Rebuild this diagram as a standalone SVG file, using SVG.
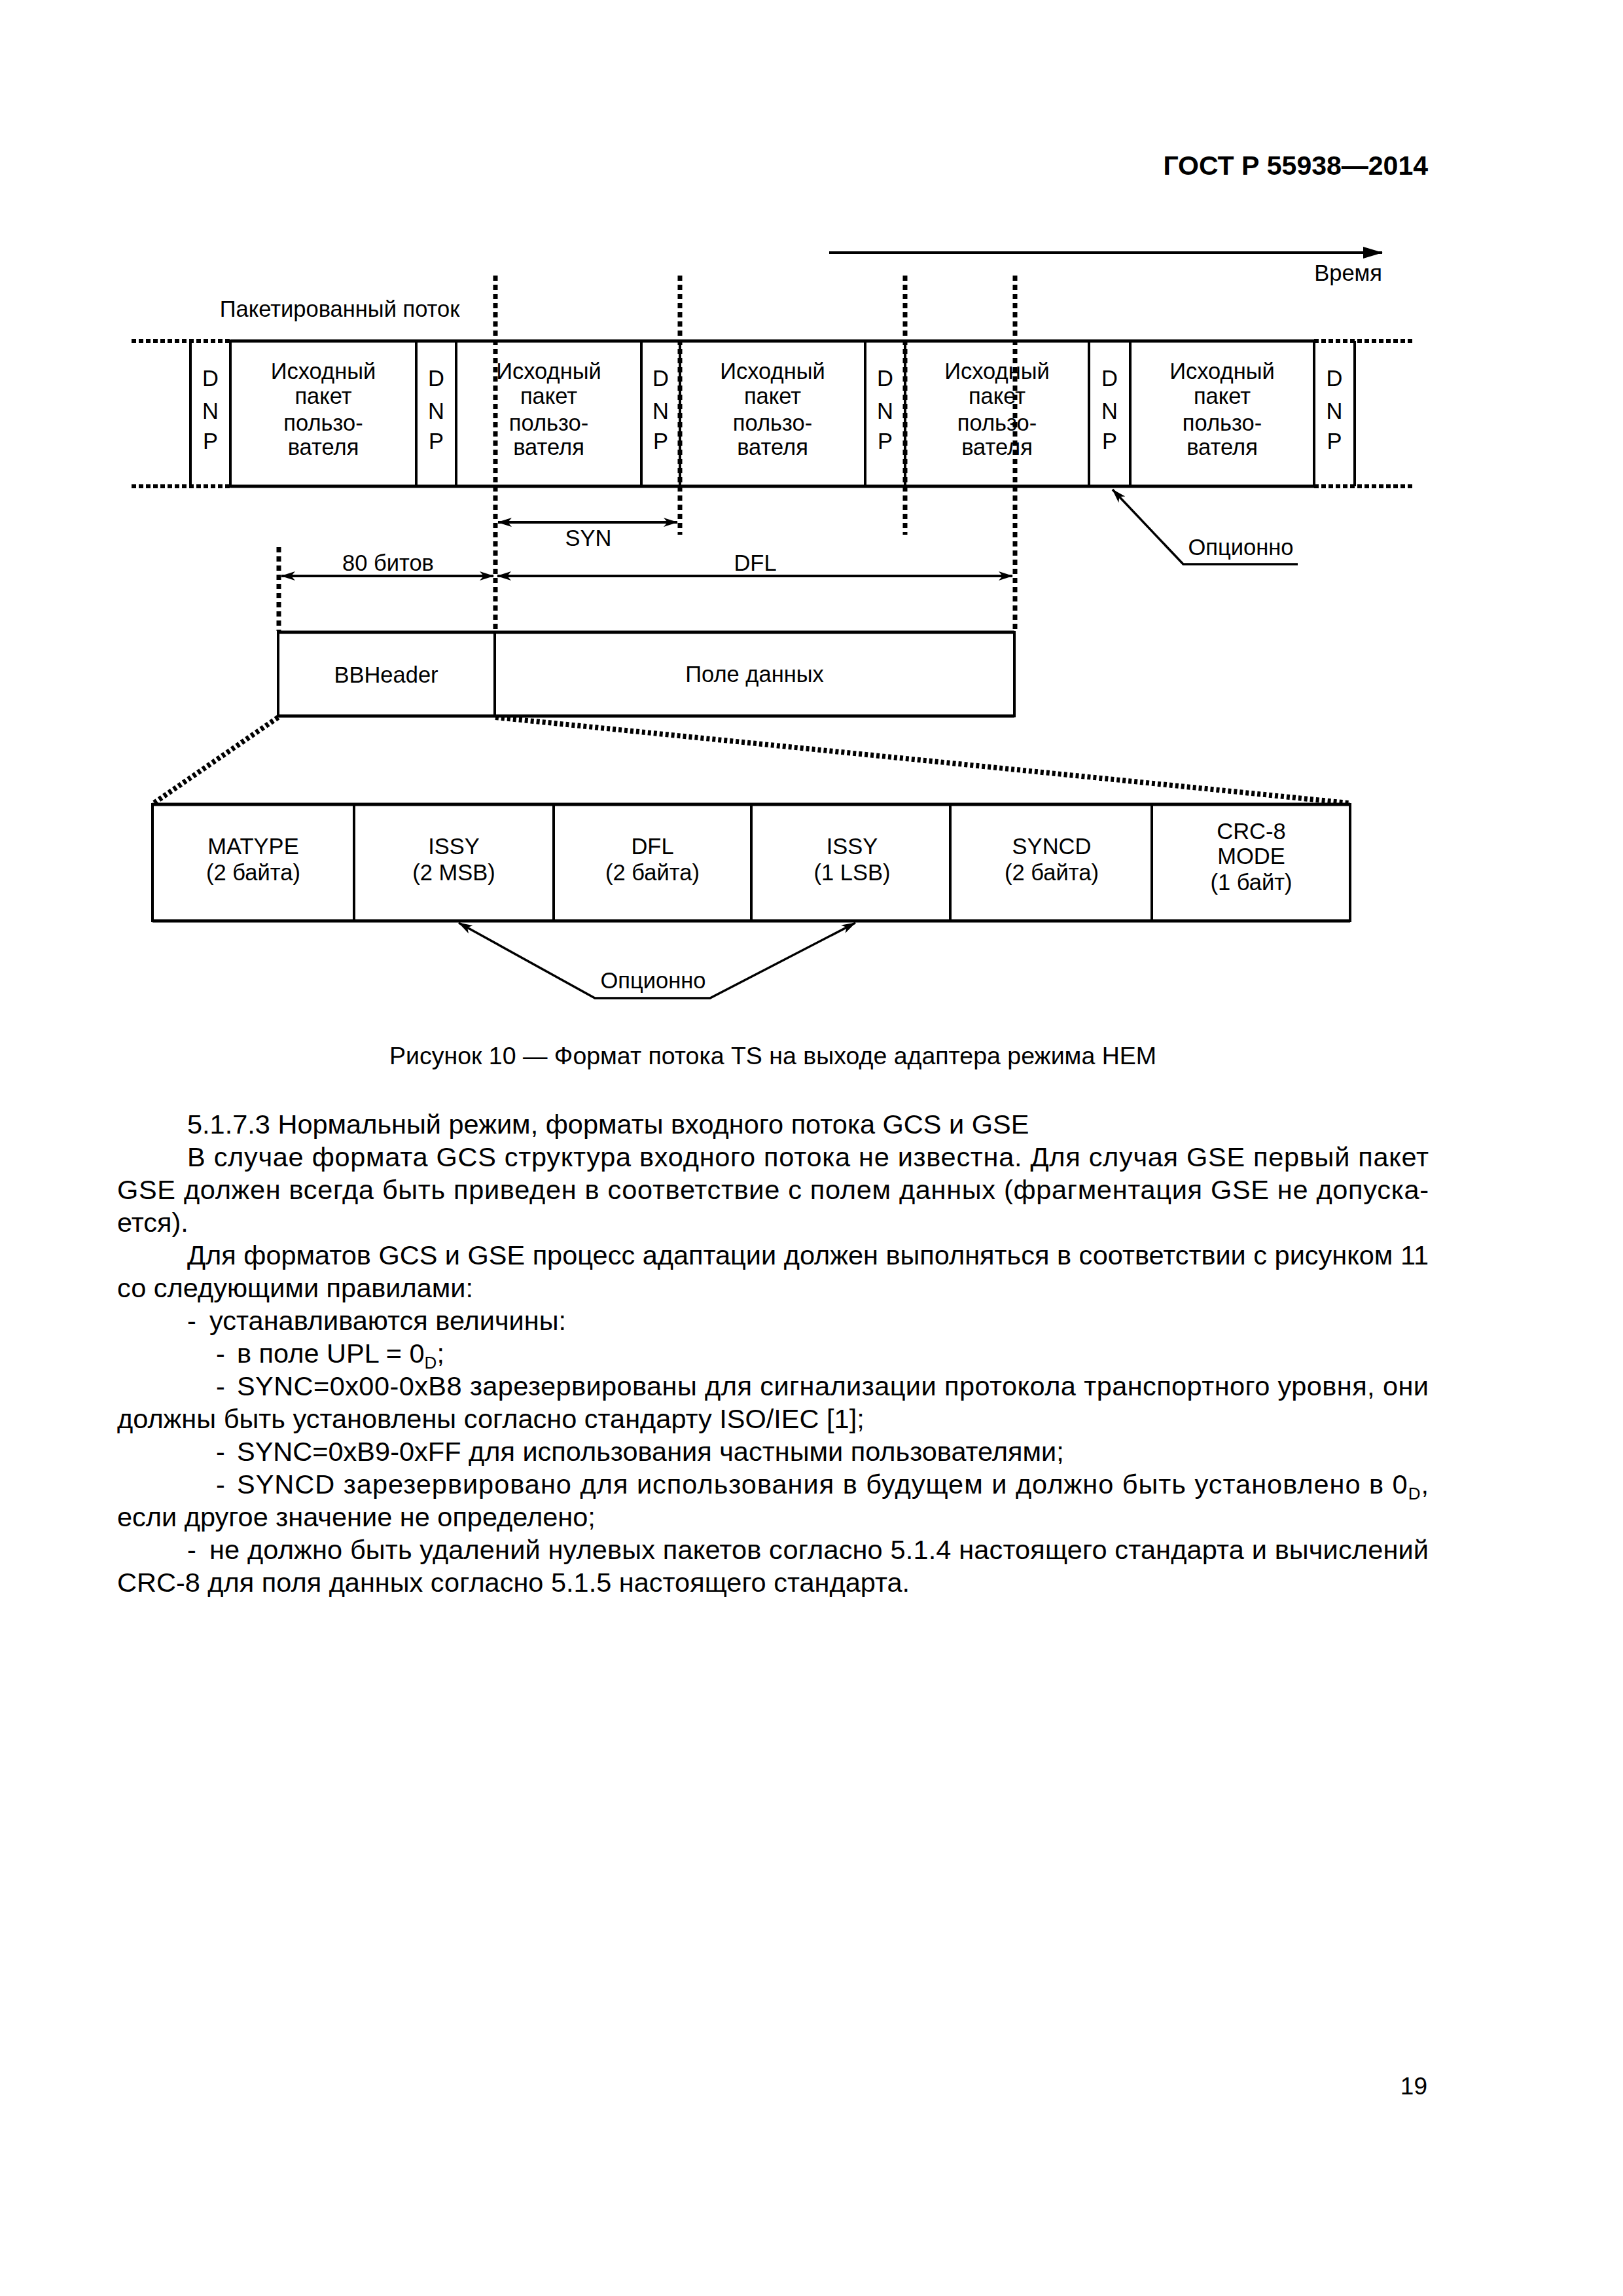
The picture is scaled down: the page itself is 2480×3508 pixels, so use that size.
<svg xmlns="http://www.w3.org/2000/svg" width="2480" height="3508" viewBox="0 0 2480 3508">
<style>
.t{font-family:"Liberation Sans",Arial,sans-serif;fill:#000}
.d{font-size:34.5px;text-anchor:middle}
.b{font-size:41.5px}
.c{font-size:37.5px;text-anchor:middle}
.box{fill:none;stroke:#000;stroke-width:4}
.hl{stroke:#000;stroke-width:5;fill:none}
.dash{stroke:#000;stroke-width:7;stroke-dasharray:8 6;fill:none}
.dot{stroke:#000;stroke-width:6;stroke-dasharray:7 4;fill:none}
.diag{stroke:#000;stroke-width:8;stroke-dasharray:5 4;fill:none}
.arr{stroke:#000;stroke-width:4;fill:none}
.opt{stroke:#000;stroke-width:3.5;fill:none}
</style>
<defs>
<marker id="ah" viewBox="0 0 22 14" markerWidth="22" markerHeight="14" refX="21" refY="7" orient="auto-start-reverse" markerUnits="userSpaceOnUse"><path d="M0,0 L22,7 L0,14 L6,7 Z" fill="#000"/></marker>
<marker id="big" viewBox="0 0 30 18" markerWidth="30" markerHeight="18" refX="29" refY="9" orient="auto" markerUnits="userSpaceOnUse"><path d="M0,0 L30,9 L0,18 Z" fill="#000"/></marker>
</defs>
<rect width="2480" height="3508" fill="#fff"/>

<text class="t" x="2182" y="267" font-size="41" font-weight="bold" text-anchor="end">ГОСТ Р 55938—2014</text>

<g id="time-axis">
<line class="arr" x1="1267" y1="386" x2="2112" y2="386" marker-end="url(#big)"/>
<text class="t" x="2112" y="429" font-size="34.5" text-anchor="end">Время</text>
</g>

<g id="stream-label"><text class="t d" x="519" y="484">Пакетированный поток</text></g>

<!-- packet stream -->
<g id="dnp1"><line class="box" x1="291" y1="521" x2="291" y2="743"/><line class="box" x1="352" y1="521" x2="352" y2="743"/>
<text class="t d" x="321.5" y="590">D</text><text class="t d" x="321.5" y="640">N</text><text class="t d" x="321.5" y="686">P</text></g>
<g id="pkt1"><rect class="box" x="352" y="521" width="284" height="222"/>
<text class="t d" x="494" y="579">Исходный</text><text class="t d" x="494" y="617">пакет</text><text class="t d" x="494" y="658">пользо-</text><text class="t d" x="494" y="695">вателя</text></g>
<g id="dnp2"><rect class="box" x="636" y="521" width="61" height="222"/>
<text class="t d" x="666.5" y="590">D</text><text class="t d" x="666.5" y="640">N</text><text class="t d" x="666.5" y="686">P</text></g>
<g id="pkt2"><rect class="box" x="697" y="521" width="283" height="222"/>
<text class="t d" x="838.5" y="579">Исходный</text><text class="t d" x="838.5" y="617">пакет</text><text class="t d" x="838.5" y="658">пользо-</text><text class="t d" x="838.5" y="695">вателя</text></g>
<g id="dnp3"><rect class="box" x="980" y="521" width="59" height="222"/>
<text class="t d" x="1009.5" y="590">D</text><text class="t d" x="1009.5" y="640">N</text><text class="t d" x="1009.5" y="686">P</text></g>
<g id="pkt3"><rect class="box" x="1039" y="521" width="283" height="222"/>
<text class="t d" x="1180.5" y="579">Исходный</text><text class="t d" x="1180.5" y="617">пакет</text><text class="t d" x="1180.5" y="658">пользо-</text><text class="t d" x="1180.5" y="695">вателя</text></g>
<g id="dnp4"><rect class="box" x="1322" y="521" width="61" height="222"/>
<text class="t d" x="1352.5" y="590">D</text><text class="t d" x="1352.5" y="640">N</text><text class="t d" x="1352.5" y="686">P</text></g>
<g id="pkt4"><rect class="box" x="1383" y="521" width="281" height="222"/>
<text class="t d" x="1523.5" y="579">Исходный</text><text class="t d" x="1523.5" y="617">пакет</text><text class="t d" x="1523.5" y="658">пользо-</text><text class="t d" x="1523.5" y="695">вателя</text></g>
<g id="dnp5"><rect class="box" x="1664" y="521" width="63" height="222"/>
<text class="t d" x="1695.5" y="590">D</text><text class="t d" x="1695.5" y="640">N</text><text class="t d" x="1695.5" y="686">P</text></g>
<g id="pkt5"><rect class="box" x="1727" y="521" width="281" height="222"/>
<text class="t d" x="1867.5" y="579">Исходный</text><text class="t d" x="1867.5" y="617">пакет</text><text class="t d" x="1867.5" y="658">пользо-</text><text class="t d" x="1867.5" y="695">вателя</text></g>
<g id="dnp6"><line class="box" x1="2008" y1="521" x2="2008" y2="743"/><line class="box" x1="2070" y1="521" x2="2070" y2="743"/>
<text class="t d" x="2039" y="590">D</text><text class="t d" x="2039" y="640">N</text><text class="t d" x="2039" y="686">P</text></g>

<g id="stream-edges">
<line class="hl" x1="352" y1="521" x2="2008" y2="521"/>
<line class="hl" x1="352" y1="743" x2="2008" y2="743"/>
<line class="dot" x1="201" y1="521" x2="352" y2="521"/>
<line class="dot" x1="201" y1="743" x2="352" y2="743"/>
<line class="dot" x1="2008" y1="521" x2="2161" y2="521"/>
<line class="dot" x1="2008" y1="743" x2="2161" y2="743"/>
</g>

<!-- BB frame -->
<g id="bbheader"><rect class="box" x="425" y="966" width="331" height="128"/>
<text class="t d" x="590" y="1043">BBHeader</text></g>
<g id="datafield"><rect class="box" x="756" y="966" width="794" height="128"/>
<text class="t d" x="1153" y="1042">Поле данных</text></g>
<g id="bb-edges">
<line class="hl" x1="425" y1="966" x2="1550" y2="966"/>
<line class="hl" x1="425" y1="1094" x2="1550" y2="1094"/>
</g>

<!-- header fields -->
<g id="f-matype"><rect class="box" x="233" y="1229" width="308" height="178"/>
<text class="t d" x="387" y="1305">MATYPE</text><text class="t d" x="387" y="1345">(2 байта)</text></g>
<g id="f-issy1"><rect class="box" x="541" y="1229" width="305" height="178"/>
<text class="t d" x="693.5" y="1305">ISSY</text><text class="t d" x="693.5" y="1345">(2 MSB)</text></g>
<g id="f-dfl"><rect class="box" x="846" y="1229" width="302" height="178"/>
<text class="t d" x="997" y="1305">DFL</text><text class="t d" x="997" y="1345">(2 байта)</text></g>
<g id="f-issy2"><rect class="box" x="1148" y="1229" width="304" height="178"/>
<text class="t d" x="1302" y="1305">ISSY</text><text class="t d" x="1302" y="1345">(1 LSB)</text></g>
<g id="f-syncd"><rect class="box" x="1452" y="1229" width="308" height="178"/>
<text class="t d" x="1607" y="1305">SYNCD</text><text class="t d" x="1607" y="1345">(2 байта)</text></g>
<g id="f-crc"><rect class="box" x="1760" y="1229" width="303" height="178"/>
<text class="t d" x="1912" y="1282">CRC-8</text><text class="t d" x="1912" y="1320">MODE</text><text class="t d" x="1912" y="1360">(1 байт)</text></g>
<g id="field-edges">
<line class="hl" x1="233" y1="1229" x2="2063" y2="1229"/>
<line class="hl" x1="233" y1="1407" x2="2063" y2="1407"/>
</g>

<g id="connectors">
<line class="dash" x1="757" y1="421" x2="757" y2="964"/>
<line class="dash" x1="1039" y1="421" x2="1039" y2="817"/>
<line class="dash" x1="1383" y1="421" x2="1383" y2="817"/>
<line class="dash" x1="1551" y1="421" x2="1551" y2="964"/>
<line class="dash" x1="426" y1="836" x2="426" y2="964"/>
<line class="arr" x1="761" y1="798" x2="1035" y2="798" marker-start="url(#ah)" marker-end="url(#ah)"/>
<line class="arr" x1="430" y1="880" x2="754" y2="880" marker-start="url(#ah)" marker-end="url(#ah)"/>
<line class="arr" x1="760" y1="880" x2="1547" y2="880" marker-start="url(#ah)" marker-end="url(#ah)"/>
<line class="diag" x1="425" y1="1096" x2="235" y2="1227"/>
<line class="diag" x1="757" y1="1096" x2="2061" y2="1227"/>
<polyline class="opt" points="1983,862 1808,862 1700,748" marker-end="url(#ah)"/>
<polyline class="opt" points="701,1410 909,1525 1085,1525 1307,1410" marker-start="url(#ah)" marker-end="url(#ah)"/>
</g>

<g id="labels">
<text class="t d" x="899" y="834">SYN</text>
<text class="t d" x="593" y="872">80 битов</text>
<text class="t d" x="1154" y="872">DFL</text>
<text class="t d" x="1896" y="848">Опционно</text>
<text class="t d" x="998" y="1510">Опционно</text>
</g>

<text class="t c" x="1181" y="1626">Рисунок 10 — Формат потока TS на выходе адаптера режима HEM</text>

<g id="body" class="t b">
<text x="286" y="1732">5.1.7.3 Нормальный режим, форматы входного потока GCS и GSE</text>
<text x="286" y="1782" textLength="1897" lengthAdjust="spacing">В случае формата GCS структура входного потока не известна. Для случая GSE первый пакет</text>
<text x="179" y="1832" textLength="2004" lengthAdjust="spacing">GSE должен всегда быть приведен в соответствие с полем данных (фрагментация GSE не допуска-</text>
<text x="179" y="1882">ется).</text>
<text x="286" y="1932" textLength="1897" lengthAdjust="spacing">Для форматов GCS и GSE процесс адаптации должен выполняться в соответствии с рисунком 11</text>
<text x="179" y="1982">со следующими правилами:</text>
<text x="286" y="2032">-</text><text x="320" y="2032">устанавливаются величины:</text>
<text x="330" y="2082">-</text><text x="362" y="2082">в поле UPL = 0<tspan font-size="26" dy="9">D</tspan><tspan dy="-9">;</tspan></text>
<text x="330" y="2132">-</text><text x="362" y="2132" textLength="1821" lengthAdjust="spacing">SYNC=0x00-0xB8 зарезервированы для сигнализации протокола транспортного уровня, они</text>
<text x="179" y="2182">должны быть установлены согласно стандарту ISO/IEC [1];</text>
<text x="330" y="2232">-</text><text x="362" y="2232">SYNC=0xB9-0xFF для использования частными пользователями;</text>
<text x="330" y="2282">-</text><text x="362" y="2282" textLength="1821" lengthAdjust="spacing">SYNCD зарезервировано для использования в будущем и должно быть установлено в 0<tspan font-size="26" dy="9">D</tspan><tspan dy="-9">,</tspan></text>
<text x="179" y="2332">если другое значение не определено;</text>
<text x="286" y="2382">-</text><text x="320" y="2382" textLength="1863" lengthAdjust="spacing">не должно быть удалений нулевых пакетов согласно 5.1.4 настоящего стандарта и вычислений</text>
<text x="179" y="2432">CRC-8 для поля данных согласно 5.1.5 настоящего стандарта.</text>
</g>

<text class="t" x="2181" y="3200" font-size="37" text-anchor="end">19</text>
</svg>
